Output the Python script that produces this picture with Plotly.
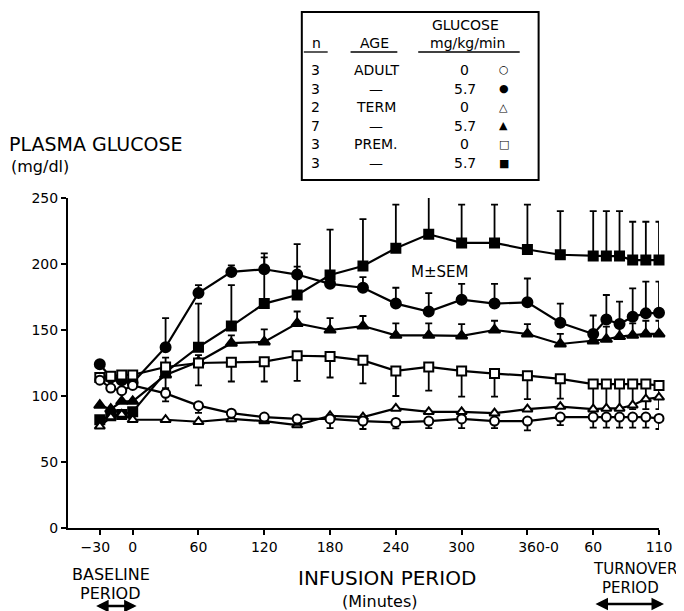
import plotly.graph_objects as go

# ---------------- data ----------------
baseline_t = [-30, -20, -10, 0]
infusion_t = [30, 60, 90, 120, 150, 180, 210, 240, 270, 300, 330, 360]
turnover_t = [30, 60, 70, 80, 90, 100, 110]

# ADULT, glucose 0 (open circle)
adult0 = [112, 106, 104, 108,
          102, 92.7, 87, 84, 82.6, 82.6, 81, 80, 81, 82.6, 81, 81,
          84, 84, 84, 84, 84, 84, 83]
adult0_lo = [None, None, None, None,
             6, 5.5, 4, 4, 4.5, 7, 6, 4.5, 5.4, 7, 5.4, 7,
             6, 8, 8, 8, 8, 8, 8]

# ADULT, glucose 5.7 (filled circle)
adult57 = [124, 114, 112, 110,
           137, 178, 194, 196, 192, 185, 182, 170, 164, 173, 170, 171,
           155.5, 147, 158, 154.5, 160, 162.6, 163]
adult57_hi = [None, None, None, None,
              22, 6, 5, 12, 6, 5, 8, 12, 14, 12, 15, 18,
              14.5, 14, 18.5, 17, 21.6, 24, 23.6]

# TERM, glucose 0 (open triangle)
term0 = [77, 84, 86, 82,
         82, 80.5, 82.6, 81, 78, 85, 84, 90.6, 88, 88, 87, 90,
         92, 90, 90.6, 90.6, 93, 97.7, 99]

# TERM, glucose 5.7 (filled triangle)
term57 = [93, 90, 96, 96,
          116, 126, 140, 141, 155, 150, 153, 146, 146, 145.5, 150, 147,
          139.4, 141.7, 143, 145, 146, 147, 147]
term57_hi = [None, None, None, None,
             None, 5, 6, 9.5, 9, 9, 7.6, 9, 9, 9, 7, 7.5,
             7.6, 6.3, 9.5, 7.5, 9, 10, 10]

# PREM., glucose 0 (open square)
prem0 = [114, 115, 116, 116,
         122, 125, 125.5, 126, 130.5, 130, 127, 119, 122, 119, 117, 115.4,
         113, 109, 109, 109, 109, 109, 108]
prem0_lo = [None, None, None, None,
            16, 17, 14.5, 15, 19, 16, 17.4, 19, 18, 19.5, 17.5, 17.7,
            15, 19, 19, 19, 19, 19, 18]

# PREM., glucose 5.7 (filled square)
prem57 = [82, 85, 86, 88,
          118, 137, 153, 170, 176.5, 191.7, 198.5, 212, 222.5, 216, 216, 211,
          207, 206, 206, 206, 203, 203, 203]
prem57_hi = [None, None, None, None,
             11, 33, 31, 35, 38.5, 34.3, 35.5, 33, 31.5, 29, 29, 34,
             33, 34, 34, 34, 29, 29, 29]

# axis ticks: (period, minutes)
NB = "\u00a0"
tick_period = ["inf", "inf", "inf", "inf", "inf", "inf", "inf", "inf", "turn", "turn"]
tick_time = [-30, 0, 60, 120, 180, 240, 300, 360, 60, 110]
tick_text = ["\u221230" + NB * 2, "0", "60", "120", "180", "240", "300",
             NB * 5 + "360-0", "60", "110"]
y_ticks = [0, 50, 100, 150, 200, 250]

# legend table
leg_n = ["3", "3", "2", "7", "3", "3"]
leg_age = ["ADULT", "\u2014", "TERM", "\u2014", "PREM.", "\u2014"]
leg_glu = ["0", "5.7", "0", "5.7", "0", "5.7"]
leg_sym = ["\u25CB", "\u25CF", "\u25B3", "\u25B2", "\u25A1", "\u25A0"]


# infusion minutes map directly; turnover minutes follow the drawn (non-uniform) scale
def pos(period, t):
    if period == "inf":
        return t
    return 360 + t if t <= 60 else 420 + (t - 60) * 1.2


x_pos = [pos("inf", t) for t in baseline_t + infusion_t] + [pos("turn", t) for t in turnover_t]
tick_pos = [pos(p, t) for p, t in zip(tick_period, tick_time)]

# ---------------- figure ----------------
OFF = 8                      # page body margin
W, H = 684 - OFF, 611 - OFF
PL, PR, PT, PB = 68, 662, 198, 528      # plot area in page pixels
L, R, T, B = PL - OFF, W - (PR - OFF), PT - OFF, H - (PB - OFF)
pw, ph = PR - PL, PB - PT


def px(x):
    return (x - PL) / pw


def py(y):
    return (PB - y) / ph


FONT = "DejaVu Sans"
fig = go.Figure()


def add(y, symbol, filled, err_hi=None, err_lo=None, size=9):
    err = None
    if err_hi is not None:
        err = dict(type="data", symmetric=False, array=err_hi,
                   arrayminus=[None] * len(err_hi), color="black",
                   thickness=1.8, width=3.5)
    if err_lo is not None:
        err = dict(type="data", symmetric=False, array=[None] * len(err_lo),
                   arrayminus=err_lo, color="black", thickness=1.8, width=3.5)
    fig.add_trace(go.Scatter(
        x=x_pos, y=y, mode="lines+markers",
        line=dict(color="black", width=2.2),
        marker=dict(symbol=symbol, size=size,
                    color="black" if filled else "white",
                    line=dict(color="black", width=2)),
        error_y=err, showlegend=False, cliponaxis=False))


add(prem57, "square", True, err_hi=prem57_hi, size=9)
add(adult57, "circle", True, err_hi=adult57_hi, size=10)
add(term57, "triangle-up", True, err_hi=term57_hi, size=10)
add(prem0, "square", False, err_lo=prem0_lo, size=9)
add(term0, "triangle-up", False, size=9)
add(adult0, "circle", False, err_lo=adult0_lo, size=9)

annotations = []


def txt(s, x, y, size=12, xanchor="center"):
    annotations.append(dict(text=s, x=px(x), y=py(y), xref="paper", yref="paper",
                            showarrow=False, xanchor=xanchor, yanchor="middle",
                            font=dict(family=FONT, size=size, color="black")))


txt("PLASMA GLUCOSE", 7, 144, 19, "left")
txt("(mg/dl)", 9, 166, 16, "left")
txt("M\u00B1SEM", 441, 272, 15)
txt("BASELINE", 111, 574, 16)
txt("PERIOD", 111, 593, 16)
txt("INFUSION PERIOD", 389, 578, 20)
txt("(Minutes)", 381, 601, 16)
txt("TURNOVER", 638, 569, 15)
txt("PERIOD", 633, 588, 15)

# legend table text
txt("GLUCOSE", 468, 25, 14)
txt("n", 318, 43, 14)
txt("AGE", 376, 43, 14)
txt("mg/kg/min", 470, 43, 14)
for i in range(len(leg_n)):
    yy = 70 + i * 18.6
    txt(leg_n[i], 317, yy, 14)
    txt(leg_age[i], 378, yy, 14)
    txt(leg_glu[i], 467, yy, 14)
    txt(leg_sym[i], 506, yy, 11)

# double-headed arrows
for x0, x1, yy in [(95, 137, 606), (597, 667, 604)]:
    annotations.append(dict(x=px(x1), y=py(yy), xref="paper", yref="paper",
                            ax=-(x1 - x0), ay=0, text="", showarrow=True,
                            arrowhead=2, arrowside="end+start", arrowsize=1,
                            arrowwidth=2.5, arrowcolor="black"))

shapes = [dict(type="rect", xref="paper", yref="paper",
               x0=px(303), x1=px(541), y0=py(180), y1=py(12),
               line=dict(color="black", width=2))]
for x0, x1 in [(305, 329), (352, 399), (420, 522)]:
    shapes.append(dict(type="line", xref="paper", yref="paper",
                       x0=px(x0), x1=px(x1), y0=py(52), y1=py(52),
                       line=dict(color="black", width=1.3)))

fig.update_layout(
    width=W, height=H,
    margin=dict(l=L, r=R, t=T, b=B),
    paper_bgcolor="white", plot_bgcolor="white",
    font=dict(family=FONT, size=12, color="black"),
    annotations=annotations, shapes=shapes,
    xaxis=dict(range=[-59, 480], tickmode="array", tickvals=tick_pos, ticktext=tick_text,
               showgrid=False, zeroline=False, showline=True, linecolor="black", linewidth=2,
               ticks="outside", ticklen=5, tickwidth=1.5, tickcolor="black",
               tickfont=dict(family=FONT, size=14)),
    yaxis=dict(range=[0, 250], tickmode="array", tickvals=y_ticks,
               showgrid=False, zeroline=False, showline=True, linecolor="black", linewidth=2,
               ticks="outside", ticklen=5, tickwidth=1.5, tickcolor="black",
               tickfont=dict(family=FONT, size=14)),
)

fig.write_html("out.html")
